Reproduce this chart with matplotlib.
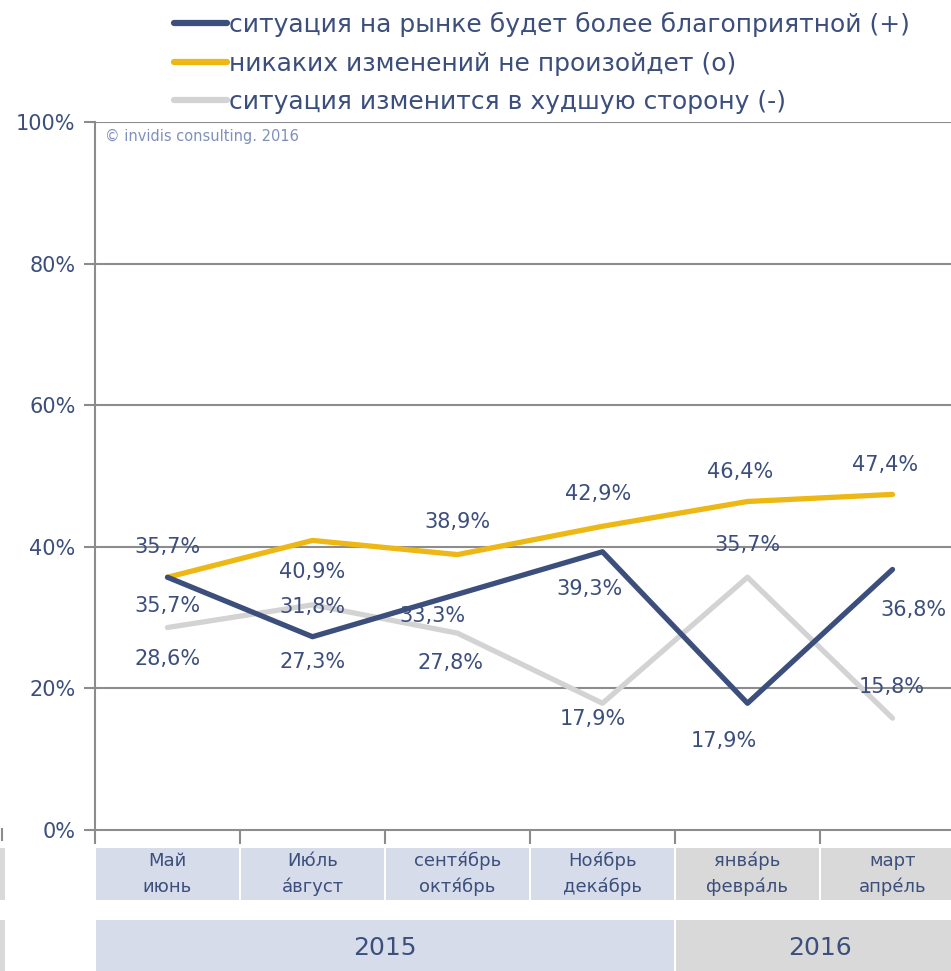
import matplotlib
matplotlib.use('Agg')
import matplotlib.pyplot as plt
from matplotlib.patches import Rectangle
from matplotlib.lines import Line2D

# data
periods = ['Май\nиюнь', 'Ию\u0301ль\nа\u0301вгуст', 'сентя\u0301брь\nоктя\u0301брь',
           'Ноя\u0301брь\nдека\u0301брь', 'янва\u0301рь\nфевра\u0301ль', 'март\nапре\u0301ль']
years = ['2015', '2016']
year_spans = [(0, 3), (4, 5)]
better = [35.7, 27.3, 33.3, 39.3, 17.9, 36.8]
same = [35.7, 40.9, 38.9, 42.9, 46.4, 47.4]
worse = [28.6, 31.8, 27.8, 17.9, 35.7, 15.8]
series_names = ['ситуация на рынке будет более благоприятной (+)',
                'никаких изменений не произойдет (о)',
                'ситуация изменится в худшую сторону (-)']

NAVY = '#3B4E7C'
YELLOW = '#EDB815'
LGREY = '#D3D3D3'
GRID = '#8C8C8C'
CELL_2015 = '#D6DCE9'
CELL_2016 = '#D9D9D9'
FONT = 'DejaVu Sans'

W, H = 951, 971
fig = plt.figure(figsize=(W / 100, H / 100), dpi=100)

left = 95 / W
width = 6 * 145 / W
ax = fig.add_axes([left, (H - 830) / H, width, (830 - 122) / H])
ax.set_xlim(-0.5, 5.5)
ax.set_ylim(0, 100)

x = list(range(len(periods)))
ax.plot(x, worse, color=LGREY, lw=3.8, solid_capstyle='round', zorder=3)
ax.plot(x, same, color=YELLOW, lw=3.8, solid_capstyle='round', zorder=4)
ax.plot(x, better, color=NAVY, lw=3.8, solid_capstyle='round', zorder=5)

# gridlines / frame
for v in [20, 40, 60, 80, 100]:
    ax.axhline(v, color=GRID, lw=1.5, zorder=1)
for s in ['top', 'right']:
    ax.spines[s].set_visible(False)
for s in ['left', 'bottom']:
    ax.spines[s].set_color(GRID)
    ax.spines[s].set_linewidth(1.5)
ax.set_yticks([0, 20, 40, 60, 80, 100])
ax.set_yticklabels(['0%', '20%', '40%', '60%', '80%', '100%'])
ax.set_xticks([i - 0.5 for i in range(7)])
ax.set_xticklabels([])
ax.tick_params(axis='y', colors=GRID, length=8, width=1.5, pad=6)
ax.tick_params(axis='x', colors=GRID, length=10, width=1.5)
for t in ax.get_yticklabels():
    t.set_color(NAVY)
    t.set_fontsize(15)
    t.set_fontfamily(FONT)

# data labels (pixel offsets from point)
off_same = [(0, 30), (0, -32), (0, 33), (-4, 32), (-7, 29), (-7, 29)]
off_better = [(0, -29), (0, -25), (-25, -22), (-13, -37), (-24, -38), (21, -41)]
off_worse = [(0, -31), (0, -2), (-7, -30), (-10, -16), (0, 32), (-1, 31)]
for vals, offs in [(same, off_same), (better, off_better), (worse, off_worse)]:
    for i, (v, o) in enumerate(zip(vals, offs)):
        ax.annotate(f'{v:.1f}%'.replace('.', ','), (i, v), xytext=o,
                    textcoords='offset pixels', ha='center', va='center',
                    fontsize=15, color=NAVY, family=FONT, zorder=6)

fig.text(105 / W, (H - 136) / H, '\u00a9 invidis consulting. 2016', color='#7F90BA',
         fontsize=10.5, family=FONT, va='center', ha='left')

# legend
handles = [Line2D([], [], color=c, lw=4.5, solid_capstyle='round') for c in (NAVY, YELLOW, LGREY)]
leg = fig.legend(handles, series_names, loc='upper left',
                 bbox_to_anchor=(164 / W, 1 - 2 / H), frameon=False,
                 prop={'family': FONT, 'size': 18}, handlelength=2.1,
                 handletextpad=0.1, labelspacing=0.58, borderaxespad=0)
for t in leg.get_texts():
    t.set_color(NAVY)

# category table
tab = fig.add_axes([left, 0, width, (H - 848) / H])
tab.set_xlim(-0.5, 5.5)
tab.set_ylim(H, 848)
tab.axis('off')
for i, p in enumerate(periods):
    c = CELL_2015 if i < 4 else CELL_2016
    tab.add_patch(Rectangle((i - 0.5 + 0.01, 848), 0.98, 52, color=c, lw=0))
    tab.text(i, 874, p, ha='center', va='center', color=NAVY, fontsize=13,
             family=FONT, linespacing=1.55)
for yr, (a, b) in zip(years, year_spans):
    c = CELL_2015 if yr == '2015' else CELL_2016
    tab.add_patch(Rectangle((a - 0.5 + 0.01, 920), b - a + 0.98, 51, color=c, lw=0))
    tab.text((a + b) / 2, 948, yr, ha='center', va='center', color=NAVY,
             fontsize=18, family=FONT)

# cut-off pieces at the far left edge
fig.add_artist(Rectangle((0, (H - 900) / H), 5 / W, 52 / H, color='#D9D9D9', lw=0))
fig.add_artist(Rectangle((0, 0), 5 / W, 51 / H, color='#D9D9D9', lw=0))
fig.add_artist(Line2D([2 / W, 2 / W], [(H - 840) / H, (H - 829) / H], color=GRID, lw=1.5))

fig.savefig('out.png', dpi=100)
